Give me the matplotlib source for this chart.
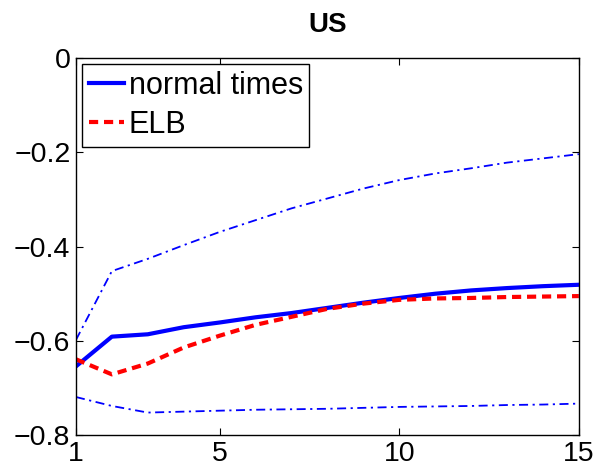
import matplotlib
matplotlib.use("Agg")
import matplotlib.pyplot as plt

plt.rcParams['font.family'] = ['Liberation Sans', 'DejaVu Sans']

# horizon
horizon = list(range(1, 16))

# median responses
normal_times = [-0.654, -0.591, -0.586, -0.571, -0.561, -0.550, -0.541, -0.530,
                -0.519, -0.509, -0.500, -0.493, -0.488, -0.484, -0.481]
elb = [-0.639, -0.671, -0.648, -0.614, -0.589, -0.566, -0.549, -0.532,
       -0.521, -0.513, -0.510, -0.509, -0.507, -0.506, -0.505]

# bands (normal times)
upper_band = [-0.598, -0.452, -0.426, -0.397, -0.369, -0.344, -0.319, -0.298,
              -0.277, -0.259, -0.245, -0.234, -0.222, -0.213, -0.204]
lower_band = [-0.719, -0.738, -0.752, -0.750, -0.748, -0.746, -0.745, -0.744,
              -0.742, -0.740, -0.739, -0.738, -0.736, -0.735, -0.733]

fig = plt.figure(figsize=(5.98, 4.71), dpi=100)
ax = fig.add_axes([0.127, 0.076, 0.841, 0.801])

ax.plot(horizon, normal_times, color='blue', lw=3, label='normal times')
ax.plot(horizon, elb, color='red', lw=3, ls=(0, (2.2, 1.4)), label='ELB')
ax.plot(horizon, upper_band, color='blue', lw=1.3, ls=(0, (5, 2.5, 1.2, 2.5)))
ax.plot(horizon, lower_band, color='blue', lw=1.3, ls=(0, (5, 2.5, 1.2, 2.5)))

ax.set_xlim(1, 15)
ax.set_ylim(-0.8, 0)
ax.set_xticks([1, 5, 10, 15])
ax.set_yticks([-0.8, -0.6, -0.4, -0.2, 0])
ax.set_yticklabels(['\u22120.8', '\u22120.6', '\u22120.4', '\u22120.2', '0'])
ax.tick_params(direction='in', top=True, right=True, labelsize=20.5, length=5, pad=4)
for s in ax.spines.values():
    s.set_linewidth(1.0)

ax.set_title('US', fontsize=20, fontweight='bold', pad=19)

leg = ax.legend(loc='upper left', fontsize=22, frameon=True, fancybox=False,
                edgecolor='black', framealpha=1, handlelength=1.15,
                handletextpad=0.15, borderpad=0.22, labelspacing=0.3,
                borderaxespad=0.2)
leg.get_frame().set_linewidth(1.0)

fig.savefig('out.png', dpi=100)
